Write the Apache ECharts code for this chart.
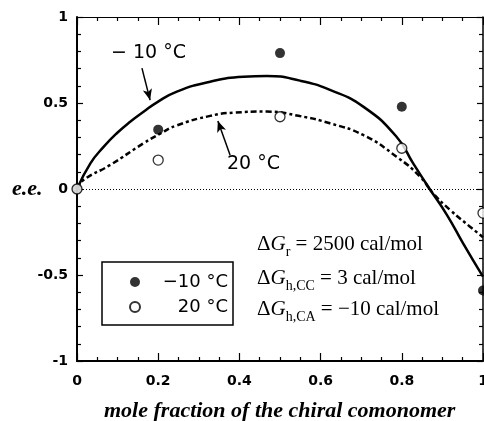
<!DOCTYPE html>
<html><head><meta charset="utf-8">
<script src="https://cdn.jsdelivr.net/npm/echarts@6/dist/echarts.min.js"></script>
<style>html,body{margin:0;padding:0;background:#fff}#c{width:484px;height:421px}</style>
</head><body><div id="c"></div>
<script>
// ---- data ----
const xTickLabels = ['0', '0.2', '0.4', '0.6', '0.8', '1'];
const yTickLabels = ['-1', '-0.5', '0', '0.5', '1'];
const seriesNames = ['\u221210 \u00b0C', '20 \u00b0C'];

const curveColdX = [0, 0.033, 0.066, 0.098, 0.131, 0.164, 0.197, 0.246, 0.328, 0.41, 0.467, 0.549, 0.623, 0.705, 0.787, 0.828, 0.865, 0.911, 0.951, 1.0];
const curveColdY = [0, 0.149, 0.246, 0.324, 0.391, 0.449, 0.504, 0.566, 0.624, 0.653, 0.657, 0.63, 0.576, 0.479, 0.304, 0.149, 0.013, -0.15, -0.316, -0.51];

const curveWarmX = [0, 0.016, 0.082, 0.164, 0.205, 0.246, 0.328, 0.386, 0.467, 0.549, 0.623, 0.705, 0.787, 0.845, 0.877, 0.919, 0.968, 1.0];
const curveWarmY = [0, 0.052, 0.14, 0.266, 0.322, 0.37, 0.425, 0.444, 0.45, 0.424, 0.382, 0.314, 0.188, 0.072, -0.025, -0.122, -0.219, -0.28];

const pointsX = [0, 0.2, 0.5, 0.8, 1.0];
const pointsColdY = [0, 0.345, 0.79, 0.478, -0.59];
const pointsWarmY = [0, 0.168, 0.42, 0.237, -0.14];

// annotation arrows in data coordinates [x1, y1, x2, y2]
const arrowCold = [0.160, 0.703, 0.180, 0.517];
const arrowWarm = [0.377, 0.198, 0.347, 0.395];

const zip = (xs, ys) => xs.map((x, i) => [x, ys[i]]);

const chart = echarts.init(document.getElementById('c'), null, {renderer: 'canvas'});

const tickFont = {fontFamily: 'DejaVu Sans', fontWeight: 'bold', fontSize: 14, color: '#000'};
const serif = 'Liberation Serif';

function xAx(pos, showLabel) {
  return {
    type: 'value', position: pos, min: 0, max: 1, interval: 0.2,
    axisLine: {show: true, onZero: false, lineStyle: {color: '#000', width: pos === 'bottom' ? 2 : 1.2}},
    axisTick: {show: true, inside: true, length: 8, lineStyle: {color: '#000', width: 1.2}},
    minorTick: {show: true, splitNumber: 4, length: 4, lineStyle: {color: '#000', width: 1.2}},
    splitLine: {show: false}, minorSplitLine: {show: false},
    axisLabel: Object.assign({show: showLabel, margin: 13,
      formatter: v => xTickLabels[Math.round(v / 0.2)]}, tickFont)
  };
}
function yAx(pos, showLabel) {
  return {
    type: 'value', position: pos, min: -1, max: 1, interval: 0.5,
    axisLine: {show: true, onZero: false, lineStyle: {color: '#000', width: pos === 'left' ? 2 : 1.5}},
    axisTick: {show: true, inside: true, length: 6, lineStyle: {color: '#000', width: 1.2}},
    minorTick: {show: true, splitNumber: 5, length: 4, lineStyle: {color: '#000', width: 1.2}},
    splitLine: {show: false}, minorSplitLine: {show: false},
    axisLabel: Object.assign({show: showLabel, margin: 9,
      formatter: v => yTickLabels[Math.round((v + 1) / 0.5)]}, tickFont)
  };
}

const mainRich = {
  d: {fontFamily: serif, fontSize: 21, lineHeight: 30, color: '#000'},
  g: {fontFamily: serif, fontStyle: 'italic', fontSize: 21, lineHeight: 30, color: '#000'},
  s: {fontFamily: serif, fontSize: 14, lineHeight: 14, verticalAlign: 'bottom', color: '#000'},
  n: {fontFamily: serif, fontSize: 21, lineHeight: 30, color: '#000'}
};
function paramText(sub, rest, y) {
  return {type: 'text', left: 257, top: y - 15, silent: true,
    style: {text: '{d|\u0394}{g|G}{s|' + sub + '}{n|' + rest + '}', rich: mainRich}};
}

chart.setOption({
  animation: false,
  backgroundColor: '#fff',
  grid: {left: 77, right: 1, top: 17, bottom: 60, containLabel: false, outerBoundsMode: 'none'},
  xAxis: [xAx('bottom', true), xAx('top', false)],
  yAxis: [yAx('left', true), yAx('right', false)],
  legend: {
    data: seriesNames, orient: 'vertical', left: 102, top: 262,
    padding: [11, 5, 9, 27], itemGap: 7, itemWidth: 10, itemHeight: 10,
    borderColor: '#000', borderWidth: 1.5, borderRadius: 0, selectedMode: false,
    formatter: '{r|{name}}',
    textStyle: {color: '#000', fontFamily: 'DejaVu Sans', fontSize: 18,
      rich: {r: {width: 83, align: 'right', fontFamily: 'DejaVu Sans', fontSize: 18, lineHeight: 20, color: '#000'}}}
  },
  graphic: [
    {type: 'text', left: 12, top: 178, silent: true,
      style: {text: 'e.e.', fontFamily: serif, fontStyle: 'italic', fontWeight: 'bold', fontSize: 22, fill: '#000'}},
    {type: 'text', left: 111, top: 44, silent: true,
      style: {text: '\u2212 10 \u00b0C', fontFamily: 'DejaVu Sans', fontSize: 19, fill: '#000'}},
    {type: 'text', left: 227, top: 155, silent: true,
      style: {text: '20 \u00b0C', fontFamily: 'DejaVu Sans', fontSize: 19, fill: '#000'}},
    paramText('r', ' = 2500 cal/mol', 249),
    paramText('h,CC', ' = 3 cal/mol', 283),
    paramText('h,CA', ' = \u221210 cal/mol', 314),
    {type: 'text', left: 104, top: 400, silent: true,
      style: {text: 'mole fraction of the chiral comonomer', fontFamily: serif, fontStyle: 'italic', fontWeight: 'bold', fontSize: 22, fill: '#000'}}
  ],
  series: [
    {
      name: 'curveCold', type: 'line', data: zip(curveColdX, curveColdY), smooth: 0.5,
      showSymbol: false, silent: true, z: 3,
      lineStyle: {color: '#000', width: 2.5},
      markLine: {
        silent: true, symbol: ['none', 'arrow'], symbolSize: [7, 11],
        label: {show: false}, lineStyle: {color: '#000', width: 1.5, type: 'solid'},
        data: [
          [{coord: [arrowCold[0], arrowCold[1]]}, {coord: [arrowCold[2], arrowCold[3]]}],
          [{coord: [arrowWarm[0], arrowWarm[1]]}, {coord: [arrowWarm[2], arrowWarm[3]]}]
        ]
      }
    },
    {
      name: 'curveWarm', type: 'line', data: zip(curveWarmX, curveWarmY), smooth: 0.5,
      showSymbol: false, silent: true, z: 3,
      lineStyle: {color: '#000', width: 2.5, type: [6, 3, 3, 3]},
      markLine: {
        silent: true, symbol: 'none', label: {show: false},
        lineStyle: {color: '#000', width: 1, type: [1, 2]},
        data: [{yAxis: 0}]
      }
    },
    {
      name: seriesNames[0], type: 'scatter', data: zip(pointsX, pointsColdY),
      symbol: 'circle', symbolSize: 10, z: 4,
      itemStyle: {color: '#000', borderColor: '#000', borderWidth: 0}
    },
    {
      name: seriesNames[1], type: 'scatter', data: zip(pointsX, pointsWarmY),
      symbol: 'circle', symbolSize: 10, z: 5,
      itemStyle: {color: '#fff', borderColor: '#000', borderWidth: 1.3}
    }
  ]
});
</script>
</body></html>
